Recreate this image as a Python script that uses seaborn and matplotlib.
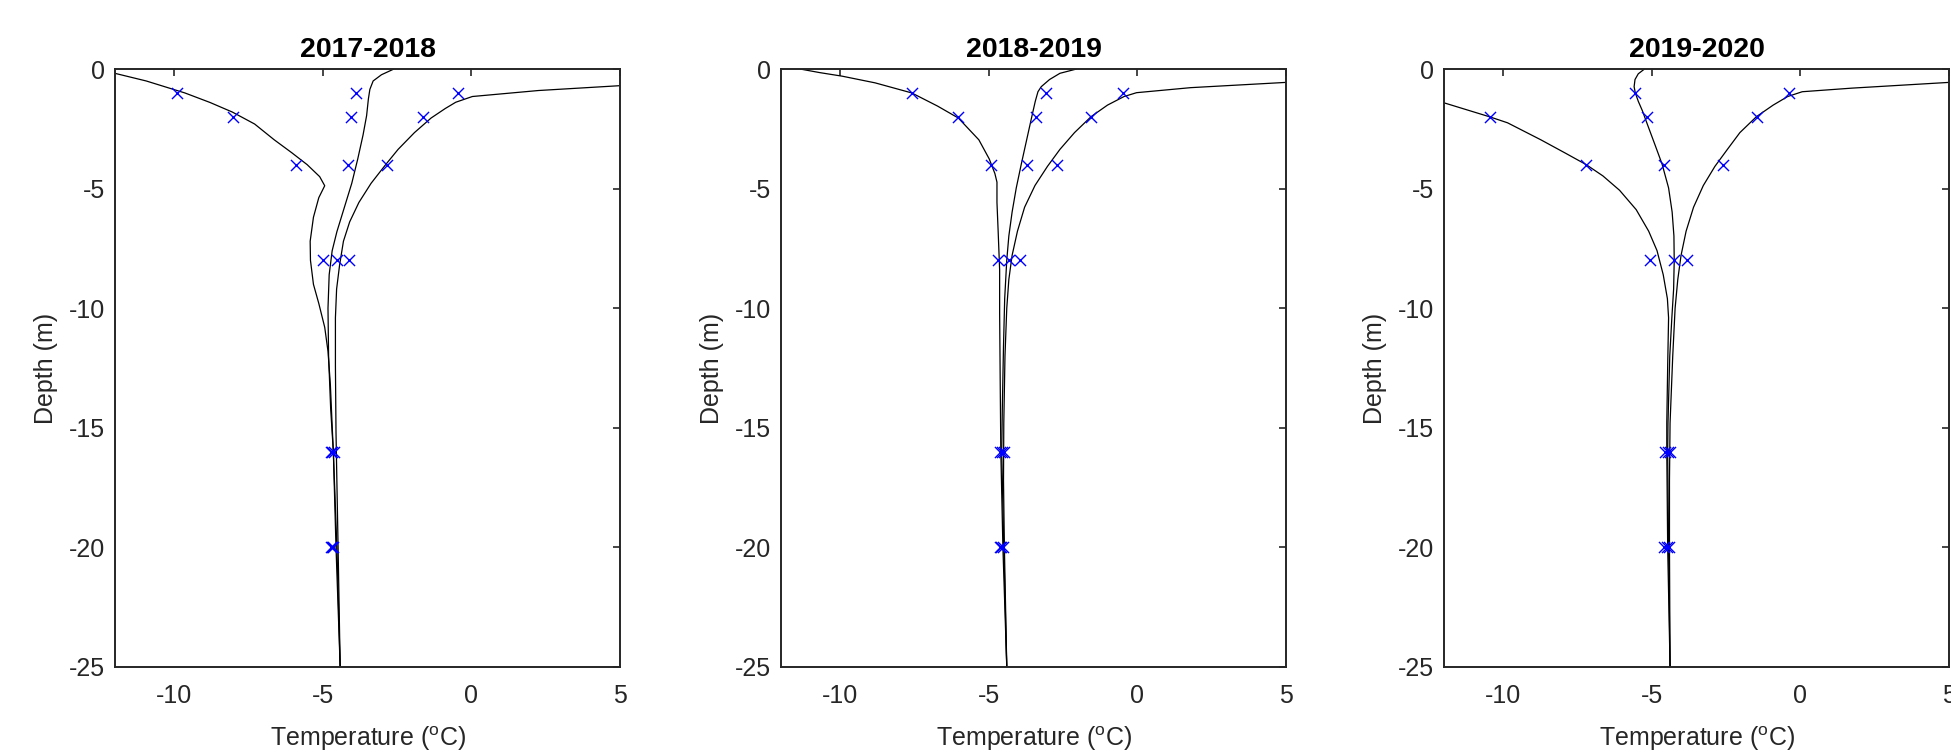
import numpy as np
import pandas as pd
import matplotlib
matplotlib.use("Agg")
import matplotlib.pyplot as plt
import seaborn as sns

SEASONS = ["2017-2018", "2018-2019", "2019-2020"]

# observed depths (m below surface) of the logger points
OBS_DEPTH = [1, 2, 4, 8, 16, 20]

OBS_1718_COLD = [-9.9, -8.03, -5.9, -4.99, -4.74, -4.72]
OBS_1718_MID = [-3.9, -4.06, -4.17, -4.53, -4.68, -4.68]
OBS_1718_WARM = [-0.46, -1.64, -2.86, -4.11, -4.64, -4.66]

OBS_1819_COLD = [-7.6, -6.03, -4.92, -4.71, -4.62, -4.63]
OBS_1819_MID = [-3.07, -3.41, -3.72, -4.33, -4.57, -4.58]
OBS_1819_WARM = [-0.49, -1.55, -2.71, -3.97, -4.5, -4.53]

# the 1 m cold value of 2019-2020 lies outside the plotted range
OBS_1920_COLD = [np.nan, -10.46, -7.21, -5.07, -4.55, -4.58]
OBS_1920_MID = [-5.56, -5.17, -4.61, -4.26, -4.47, -4.50]
OBS_1920_WARM = [-0.38, -1.45, -2.6, -3.83, -4.4, -4.44]

# simulated profiles (depth in m, temperature in degC)
DEPTH_1718_COLD = [0, 0.2, 0.5, 0.75, 1.0, 1.4, 1.8, 2.3, 2.96, 3.5, 4.0, 4.5, 4.88, 5.38,
                   6.2, 7.2, 8.0, 9.0, 9.8, 10.8, 11.8, 13.2, 14.9, 16, 20, 25]
TEMP_1718_COLD = [-12.6, -11.94, -10.95, -10.3, -9.65, -8.8, -8.05, -7.3, -6.64, -6.05, -5.53,
                  -5.11, -4.94, -5.14, -5.32, -5.43, -5.42, -5.32, -5.14, -4.94, -4.83, -4.75,
                  -4.69, -4.65, -4.56, -4.42]
DEPTH_1718_MID = [0, 0.24, 0.5, 0.85, 1.25, 1.95, 2.76, 3.77, 4.78, 5.79, 6.8, 7.6, 8.6, 10,
                  12, 14.2, 16, 20, 25]
TEMP_1718_MID = [-2.61, -3.03, -3.31, -3.42, -3.47, -3.53, -3.65, -3.83, -4.03, -4.28, -4.53,
                 -4.69, -4.79, -4.83, -4.81, -4.74, -4.65, -4.53, -4.42]
DEPTH_1718_WARM = [0, 0.4, 0.7, 0.9, 1.15, 1.39, 1.65, 2.05, 2.66, 3.36, 4.0, 4.78, 5.58, 6.39,
                   7.2, 8.2, 9.2, 10.4, 12.4, 15.2, 17.3, 20, 25]
TEMP_1718_WARM = [14, 9, 4.96, 2.25, 0.03, -0.53, -0.88, -1.36, -1.92, -2.47, -2.89, -3.38,
                  -3.79, -4.1, -4.31, -4.44, -4.54, -4.58, -4.58, -4.56, -4.53, -4.49, -4.42]

DEPTH_1819_COLD = [0, 0.15, 0.3, 0.58, 1.0, 1.55, 2.05, 2.96, 3.76, 4.37, 4.73, 5.58, 6.78,
                   8.4, 10.2, 13.2, 16, 20, 25]
TEMP_1819_COLD = [-11.36, -10.7, -9.94, -8.83, -7.6, -6.73, -6.03, -5.34, -4.99, -4.8, -4.73,
                  -4.73, -4.69, -4.64, -4.64, -4.62, -4.6, -4.53, -4.4]
DEPTH_1819_MID = [0, 0.18, 0.44, 0.74, 0.95, 1.35, 1.95, 2.96, 3.97, 4.97, 5.98, 6.98, 7.99,
                  9.6, 11.6, 14.2, 16, 20, 25]
TEMP_1819_MID = [-2.05, -2.61, -2.96, -3.24, -3.35, -3.44, -3.55, -3.73, -3.91, -4.08, -4.22,
                 -4.33, -4.4, -4.47, -4.51, -4.55, -4.57, -4.5, -4.4]
DEPTH_1819_WARM = [0, 0.35, 0.56, 0.78, 0.99, 1.15, 1.51, 1.99, 2.66, 3.36, 4.07, 4.87, 5.78,
                   6.78, 7.79, 8.8, 10, 12, 14.8, 17.2, 20, 25]
TEMP_1819_WARM = [12, 8, 5.0, 1.79, -0.03, -0.45, -1.01, -1.56, -2.12, -2.61, -3.03, -3.45,
                  -3.8, -4.04, -4.22, -4.33, -4.4, -4.46, -4.5, -4.51, -4.48, -4.4]

DEPTH_1920_COLD = [0, 0.7, 1.41, 2.0, 2.25, 2.96, 3.52, 4.0, 4.47, 5.07, 5.88, 6.78, 7.59,
                   8.6, 9.6, 10.4, 12.4, 14.8, 16, 20, 25]
TEMP_1920_COLD = [-17, -13.9, -12.01, -10.46, -9.86, -8.74, -7.91, -7.21, -6.65, -6.09, -5.53,
                  -5.11, -4.83, -4.62, -4.48, -4.44, -4.47, -4.5, -4.5, -4.47, -4.39]
DEPTH_1920_MID = [0, 0.2, 0.44, 0.74, 1.0, 1.35, 1.75, 2.36, 3.16, 3.97, 4.97, 5.98, 6.98,
                  8.0, 9.2, 10.4, 12, 14.8, 16, 20, 25]
TEMP_1920_MID = [-5.25, -5.46, -5.57, -5.6, -5.56, -5.46, -5.32, -5.14, -4.9, -4.66, -4.44,
                 -4.32, -4.26, -4.25, -4.27, -4.33, -4.4, -4.46, -4.47, -4.44, -4.39]
DEPTH_1920_WARM = [0, 0.35, 0.56, 0.8, 0.95, 1.15, 1.51, 1.99, 2.66, 3.36, 4.07, 4.87, 5.78,
                   6.78, 7.79, 8.8, 10, 12, 14.8, 17.2, 20, 25]
TEMP_1920_WARM = [12, 8, 5.0, 1.73, 0.06, -0.43, -0.92, -1.48, -2.04, -2.46, -2.88, -3.27,
                  -3.6, -3.85, -4.02, -4.13, -4.22, -4.3, -4.39, -4.41, -4.41, -4.39]

X_TICKS = [-10, -5, 0, 5]
Y_TICKS = [-25, -20, -15, -10, -5, 0]

PANELS = [
    {
        "obs": [OBS_1718_COLD, OBS_1718_MID, OBS_1718_WARM],
        "model": [(DEPTH_1718_COLD, TEMP_1718_COLD), (DEPTH_1718_MID, TEMP_1718_MID),
                  (DEPTH_1718_WARM, TEMP_1718_WARM)],
    },
    {
        "obs": [OBS_1819_COLD, OBS_1819_MID, OBS_1819_WARM],
        "model": [(DEPTH_1819_COLD, TEMP_1819_COLD), (DEPTH_1819_MID, TEMP_1819_MID),
                  (DEPTH_1819_WARM, TEMP_1819_WARM)],
    },
    {
        "obs": [OBS_1920_COLD, OBS_1920_MID, OBS_1920_WARM],
        "model": [(DEPTH_1920_COLD, TEMP_1920_COLD), (DEPTH_1920_MID, TEMP_1920_MID),
                  (DEPTH_1920_WARM, TEMP_1920_WARM)],
    },
]


def model_frame(profiles):
    parts = []
    for i, (depth, temp) in enumerate(profiles):
        parts.append(pd.DataFrame({"temp": temp, "depth": -np.asarray(depth, float), "profile": i}))
    return pd.concat(parts, ignore_index=True)


def obs_frame(series):
    parts = []
    for i, temp in enumerate(series):
        parts.append(pd.DataFrame({"temp": temp, "depth": -np.asarray(OBS_DEPTH, float), "profile": i}))
    return pd.concat(parts, ignore_index=True).dropna()


def main() -> None:
    sns.set_style("white")
    plt.rcParams["font.family"] = ["Liberation Sans", "DejaVu Sans"]
    plt.rcParams["mathtext.fontset"] = "custom"
    plt.rcParams["mathtext.rm"] = "Liberation Sans"
    plt.rcParams["mathtext.it"] = "Liberation Sans:italic"
    plt.rcParams["axes.unicode_minus"] = False

    fig = plt.figure(figsize=(19.51, 7.55), dpi=100)
    lefts = [115 / 1951, 781 / 1951, 1444 / 1951]
    width = 505 / 1951
    bottom = 1 - 667 / 755
    height = 598 / 755
    edge = "#262626"

    for left, season, panel in zip(lefts, SEASONS, PANELS):
        ax = fig.add_axes([left, bottom, width, height])
        sns.lineplot(data=model_frame(panel["model"]), x="temp", y="depth", units="profile",
                     estimator=None, sort=False, color="black", linewidth=0.9, ax=ax)
        sns.scatterplot(data=obs_frame(panel["obs"]), x="temp", y="depth", marker="x",
                        color="blue", s=64, linewidth=1.0, ax=ax, zorder=3)

        ax.set_xlim(-12, 5)
        ax.set_ylim(-25, 0)
        ax.set_xticks(X_TICKS)
        ax.set_yticks(Y_TICKS)
        ax.tick_params(direction="in", top=True, right=True, length=5, width=1.2,
                       labelsize=18, colors=edge)
        ax.tick_params(axis="x", pad=12)
        ax.tick_params(axis="y", pad=7)
        for spine in ax.spines.values():
            spine.set_linewidth(1.4)
            spine.set_color(edge)
        ax.set_title(season, fontsize=20.5, fontweight="bold", color="black", pad=9)
        ax.set_xlabel(r"Temperature ($^{\mathrm{o}}$C)", fontsize=18, color=edge, labelpad=12)
        ax.set_ylabel("Depth (m)", fontsize=18, color=edge, labelpad=8)

    fig.savefig("out.png", dpi=100)
    plt.close(fig)


if __name__ == "__main__":
    main()
